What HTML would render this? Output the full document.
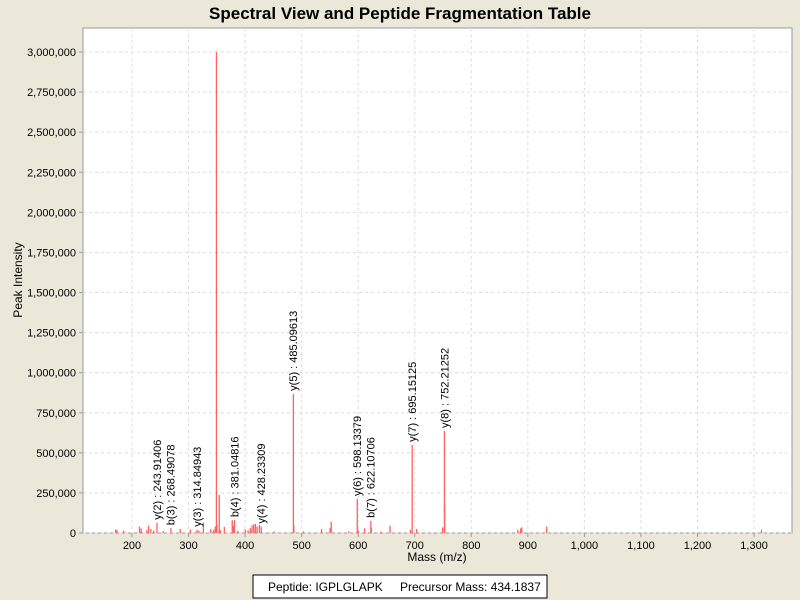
<!DOCTYPE html>
<html><head><meta charset="utf-8"><style>
body{margin:0;background:#ebe8d9;font-family:"Liberation Sans",sans-serif;}
svg{display:block}
</style></head><body>
<svg id="chart" width="800" height="600">
<rect width="800" height="600" fill="#ebe8d9"/>
<text x="400" y="19" text-anchor="middle" font-size="17" font-weight="bold">Spectral View and Peptide Fragmentation Table</text>
<rect x="83" y="28" width="709" height="505" fill="#fff" stroke="#999"/>
<g id="grid"></g><g id="peaks"></g><g id="labels"></g><g id="axes"></g>
<text x="437" y="561" text-anchor="middle" font-size="12">Mass (m/z)</text>
<text transform="translate(22,280) rotate(-90)" text-anchor="middle" font-size="12">Peak Intensity</text>
<g>
<rect x="253" y="575" width="294" height="23" fill="#fff" stroke="#000"/>
<text x="268" y="591" font-size="12">Peptide: IGPLGLAPK</text>
<text x="400" y="591" font-size="12">Precursor Mass: 434.1837</text>
</g>
</svg>
<script>
const peakMz=[171,173,185,213,216,226,229,233,238,243.9,255,268.5,285,303,314.8,318,326,339,344,347,349,350,354,356,363,377,379,381,387,400,405,409,412,415,418,421,425,428.2,451,485.1,486,503,535,550,552,583,598.1,600,611,622.1,623,640,656,692,695.2,703,749,752.2,752.6,882,887,889,933,1313];
const peakInt=[22000,18000,14000,40000,28000,18000,44000,25000,15000,64000,12000,30000,25000,22000,20000,14000,65000,25000,20000,40000,3000000,50000,237000,18000,38000,80000,45000,80000,14000,22000,18000,30000,48000,54000,57000,40000,50000,40000,10000,868000,48000,10000,25000,30000,70000,10000,212000,15000,30000,76000,30000,10000,45000,20000,550000,25000,35000,636000,175000,20000,28000,35000,40000,20000];
const labelMz=[243.9,268.5,314.8,381.0,428.2,485.1,598.1,622.1,695.2,752.2];
const labelInt=[64000,30000,20000,80000,40000,868000,212000,76000,550000,636000];
const labelText=["y(2) : 243.91406","b(3) : 268.49078","y(3) : 314.84943","b(4) : 381.04816","y(4) : 428.23309","y(5) : 485.09613","y(6) : 598.13379","b(7) : 622.10706","y(7) : 695.15125","y(8) : 752.21252"];
const xTicks=[200,300,400,500,600,700,800,900,1000,1100,1200,1300];
const yTicks=[0,250000,500000,750000,1000000,1250000,1500000,1750000,2000000,2250000,2500000,2750000,3000000];
const NS="http://www.w3.org/2000/svg";
const X=v=>132+(v-200)*0.5655;
const Y=v=>533-v*(481/3000000);
function mk(t,a,p){const e=document.createElementNS(NS,t);for(const k in a)e.setAttribute(k,a[k]);document.getElementById(p).appendChild(e);return e;}
const fmt=v=>v.toLocaleString('en-US');
yTicks.forEach(v=>{
 const g=mk('line',{x1:83,x2:792,y1:Y(v),y2:Y(v),stroke:'#ddd','stroke-dasharray':'3,3'},'grid');
 
 
 const tk=mk('line',{x1:79,x2:83,y1:Y(v),y2:Y(v),stroke:'#999'},'axes');
 
 
 const t=mk('text',{x:76,y:Y(v)+4,'text-anchor':'end','font-size':11},'axes');t.textContent=fmt(v);
 
 
});
xTicks.forEach(v=>{
 const g=mk('line',{x1:X(v),x2:X(v),y1:28,y2:533,stroke:'#ddd','stroke-dasharray':'3,3'},'grid');
 
 
 const tk=mk('line',{x1:X(v),x2:X(v),y1:533,y2:537,stroke:'#999'},'axes');
 
 
 const t=mk('text',{x:X(v),y:549,'text-anchor':'middle','font-size':11},'axes');t.textContent=fmt(v);
 
 
});
peakMz.forEach((m,i)=>{
 const r=mk('rect',{x:X(m)-0.5,y:Y(peakInt[i]),width:1.3,height:533-Y(peakInt[i]),fill:'#ff6060'},'peaks');
 
 
});
labelMz.forEach((m,i)=>{
 const x=X(m)+4,y=Y(labelInt[i])-3;
 const t=mk('text',{x:x,y:y,transform:`rotate(-90 ${x} ${y})`,'font-size':11},'labels');
 t.textContent=labelText[i];
 
 
});
</script>
</body></html>
